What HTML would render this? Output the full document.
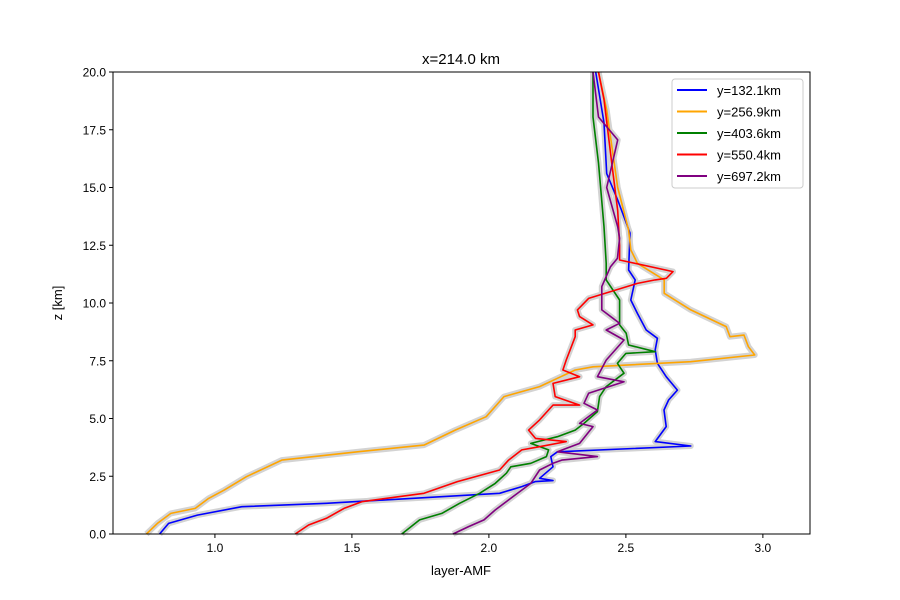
<!DOCTYPE html>
<html><head><meta charset="utf-8"><style>
body{margin:0;background:#fff}
svg{display:block;font-family:"Liberation Sans","DejaVu Sans",sans-serif}
</style></head><body>
<svg id="chart" width="900" height="600" viewBox="0 0 900 600">
<rect x="0" y="0" width="900" height="600" fill="#fff"/>
<text x="461" y="64" font-size="15" text-anchor="middle">x=214.0 km</text>
<g id="bands"></g>
<g id="lines"></g>
<g id="axes"></g>
<text x="461" y="575" font-size="13" text-anchor="middle">layer-AMF</text>
<text x="62" y="303" font-size="13" text-anchor="middle" transform="rotate(-90 62 303)">z [km]</text>
<g id="legend"></g>
</svg>
<script>
const seriesNames = ["y=132.1km","y=256.9km","y=403.6km","y=550.4km","y=697.2km"];
const seriesColors = ["#0000ff","#ffa500","#008000","#ff0000","#800080"];
const xTicks = [1.0,1.5,2.0,2.5,3.0];
const yTicks = [0,2.5,5,7.5,10,12.5,15,17.5,20];
const blueAmf = [0.798,0.831,0.936,1.098,1.407,2.039,2.120,2.169,2.234,2.185,2.234,2.226,2.250,2.737,2.607,2.647,2.639,2.656,2.688,2.647,2.615,2.607,2.615,2.574,2.542,2.518,2.534,2.510,2.515,2.47,2.43,2.42,2.39];
const blueZ = [0,0.46,0.82,1.18,1.33,1.76,2.05,2.27,2.31,2.41,2.91,3.35,3.56,3.81,4.0,4.65,5.37,5.8,6.23,6.81,7.39,7.97,8.47,8.83,9.55,10.13,11.0,11.43,13.03,14.46,15.6,17.8,20];
const orangeAmf = [0.750,0.790,0.839,0.928,0.977,1.034,1.115,1.244,1.520,1.763,1.877,1.990,2.055,2.185,2.250,2.315,2.380,2.737,2.970,2.947,2.931,2.880,2.866,2.737,2.640,2.640,2.542,2.518,2.510,2.47,2.43,2.40];
const orangeZ = [0,0.46,0.89,1.11,1.54,1.9,2.48,3.2,3.56,3.85,4.5,5.08,5.95,6.38,6.74,7.1,7.24,7.46,7.75,8.11,8.61,8.54,8.98,9.7,10.42,11.0,11.72,12.3,13.16,15.0,18.35,20];
const greenAmf = [1.682,1.747,1.828,1.893,1.966,2.023,2.064,2.080,2.153,2.210,2.218,2.153,2.250,2.315,2.347,2.396,2.404,2.428,2.493,2.469,2.500,2.607,2.510,2.501,2.477,2.477,2.477,2.428,2.428,2.42,2.40,2.38,2.38];
const greenZ = [0,0.61,0.89,1.33,1.76,2.19,2.63,2.91,3.06,3.35,3.64,3.92,4.21,4.5,4.79,5.3,5.95,6.38,6.96,7.39,7.82,7.89,8.18,8.69,9.05,9.7,10.13,11.0,11.72,13.3,16.06,18.05,20];
const redAmf = [1.293,1.342,1.407,1.471,1.536,1.763,1.885,2.039,2.072,2.120,2.185,2.282,2.170,2.145,2.185,2.234,2.331,2.242,2.234,2.331,2.270,2.282,2.315,2.315,2.380,2.331,2.323,2.364,2.542,2.607,2.648,2.672,2.477,2.477,2.47,2.45,2.42,2.40];
const redZ = [0,0.39,0.68,1.11,1.4,1.76,2.27,2.77,3.2,3.64,3.78,4.0,4.14,4.5,4.94,5.58,5.58,5.95,6.52,6.81,7.1,7.53,8.54,8.83,9.05,9.41,9.7,10.2,10.85,11.0,11.07,11.36,11.86,12.5,14.0,15.9,18.8,20];
const purpleAmf = [1.869,1.926,1.982,2.023,2.088,2.153,2.185,2.234,2.266,2.396,2.250,2.331,2.380,2.331,2.396,2.347,2.364,2.493,2.396,2.428,2.493,2.428,2.477,2.412,2.412,2.444,2.469,2.477,2.47,2.43,2.47,2.40,2.38];
const purpleZ = [0,0.32,0.61,1.04,1.62,2.19,2.77,3.06,3.2,3.35,3.56,3.92,4.65,4.79,5.37,5.66,6.09,6.59,6.81,7.53,8.4,8.83,9.12,9.7,10.71,11.57,11.93,12.8,13.3,15.0,17.06,18.05,20];

const X0=113,X1=810,Y0=534,Y1=72;
const xMin=0.628,xMax=3.172,zMin=0,zMax=20;
function sx(v){return X0+(v-xMin)/(xMax-xMin)*(X1-X0);}
function sy(v){return Y0-(v-zMin)/(zMax-zMin)*(Y0-Y1);}
const NS="http://www.w3.org/2000/svg";
function mk(tag,attrs,parent){const e=document.createElementNS(NS,tag);for(const k in attrs)e.setAttribute(k,attrs[k]);parent.appendChild(e);return e;}
const allAmf=[blueAmf,orangeAmf,greenAmf,redAmf,purpleAmf];
const allZ=[blueZ,orangeZ,greenZ,redZ,purpleZ];
const bands=document.getElementById('bands'),lines=document.getElementById('lines');
allAmf.forEach((a,i)=>{
  const pts=a.map((v,j)=>sx(v).toFixed(1)+","+sy(allZ[i][j]).toFixed(1)).join(" ");
  const b=mk('polyline',{points:pts,fill:'none',stroke:'#d3d3d3','stroke-width':6,'stroke-linejoin':'round'},bands);
  
  
});
allAmf.forEach((a,i)=>{
  const pts=a.map((v,j)=>sx(v).toFixed(1)+","+sy(allZ[i][j]).toFixed(1)).join(" ");
  const l=mk('polyline',{points:pts,fill:'none',stroke:seriesColors[i],'stroke-width':1.6,'stroke-linejoin':'round'},lines);
  
  
});
const ax=document.getElementById('axes');
mk('rect',{x:X0,y:Y1,width:X1-X0,height:Y0-Y1,fill:'none',stroke:'#000','stroke-width':1},ax);
xTicks.forEach(t=>{
  const x=sx(t);
  const tk=mk('line',{x1:x,x2:x,y1:Y0,y2:Y0+4,stroke:'#000'},ax);
  
  
  const tx=mk('text',{x:x,y:Y0+18,'font-size':12,'text-anchor':'middle'},ax);
  tx.textContent=t.toFixed(1);
  
  
});
yTicks.forEach(t=>{
  const y=sy(t);
  const tk=mk('line',{x1:X0-4,x2:X0,y1:y,y2:y,stroke:'#000'},ax);
  
  
  const tx=mk('text',{x:X0-7,y:y+4.5,'font-size':12,'text-anchor':'end'},ax);
  tx.textContent=t.toFixed(1);
  
  
});
const lg=document.getElementById('legend');
mk('rect',{x:672,y:79,width:131,height:109,rx:3,fill:'#fff','fill-opacity':0.8,stroke:'#ccc'},lg);
seriesNames.forEach((n,i)=>{
  const y=94+i*21.5;
  const ln=mk('line',{x1:677,x2:707,y1:y-4,y2:y-4,stroke:seriesColors[i],'stroke-width':2},lg);
  
  
  const tx=mk('text',{x:717,y:y+1,'font-size':13},lg);
  tx.textContent=n;
  
  
});
</script>
</body></html>
